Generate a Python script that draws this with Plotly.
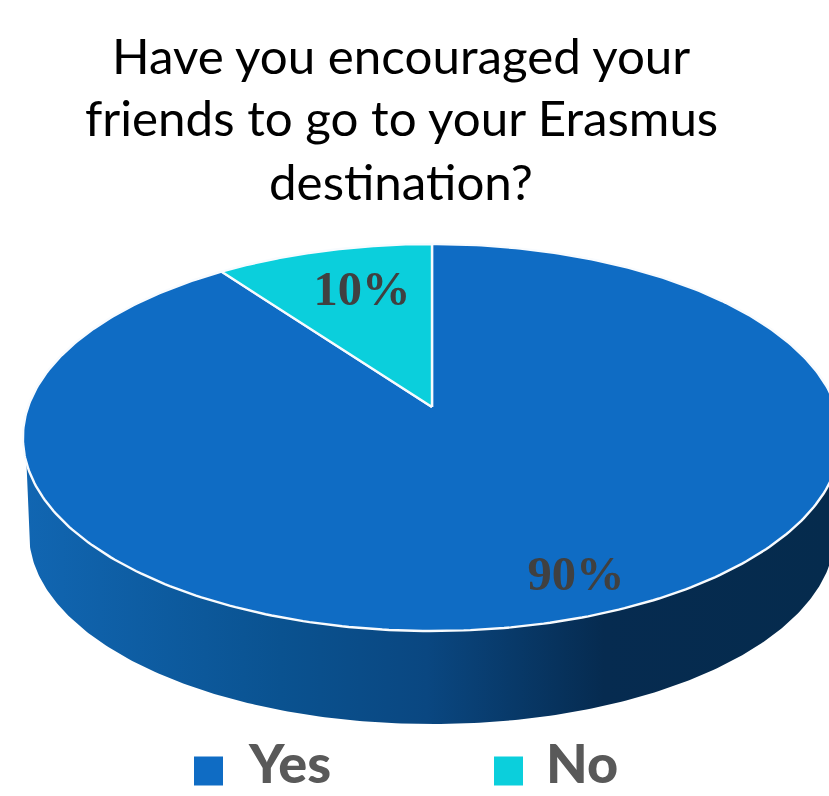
import numpy as np
import plotly.graph_objects as go

# Survey results
categories = ["Yes", "No"]
shares = [90, 10]
title_lines = [
    "Have you encouraged your",
    "friends to go to your Erasmus",
    "destination?",
]

WIDTH, HEIGHT = 829, 796
COLORS = {"Yes": "#0f6cc4", "No": "#0bcfdc"}

# Perspective projection of the pie's top face onto the page
CX, CY = 432.0, 407.0
SCALE_X, SCALE_Y, TILT = 404.0, 188.7, 0.1576
# Lower rim of the wall
DEPTH, LOWER_SCALE = 96.0, 0.985


def project(theta_deg, radius=1.0):
    t = np.radians(theta_deg)
    u, v = radius * np.sin(t), radius * np.cos(t)
    w = 1 + TILT * v
    return CX + SCALE_X * u / w, CY - SCALE_Y * v / w


def project_lower(theta_deg):
    x, y = project(theta_deg)
    return CX + (x - CX) * LOWER_SCALE, (y - 437.5) * LOWER_SCALE + 437.5 + DEPTH


fig = go.Figure()

# Wall of the disc, visible along the front half
upper_a = np.degrees(np.arccos(-0.2835))
lower_a = np.degrees(np.arccos(-TILT))
upper_theta = np.linspace(upper_a, 360 - upper_a, 240)
lower_theta = np.linspace(360 - lower_a, lower_a, 240)
ux, uy = project(upper_theta)
lx, ly = project_lower(lower_theta)
fig.add_trace(go.Scatter(
    x=np.r_[ux, lx], y=np.r_[uy, ly],
    mode="lines", line=dict(width=0), fill="toself",
    fillgradient=dict(
        type="horizontal", start=24, stop=829,
        colorscale=[
            [0.0, "#1166b2"], [0.32, "#0a5290"], [0.5, "#0a4781"],
            [0.72, "#062b50"], [1.0, "#052b4d"],
        ],
    ),
    hoverinfo="skip", showlegend=False,
))

# Top face slices, drawn clockwise from twelve o'clock
edges = np.r_[0, np.cumsum(shares)] / np.sum(shares) * 360
for name, start, stop in zip(categories, edges[:-1], edges[1:]):
    theta = np.linspace(start, stop, 400)
    x, y = project(theta)
    fig.add_trace(go.Scatter(
        x=np.r_[CX, x, CX], y=np.r_[CY, y, CY],
        mode="lines", line=dict(color="#f8fbfe", width=2.4),
        fill="toself", fillcolor=COLORS[name],
        name=name, showlegend=False, hoverinfo="skip",
    ))

# Percentage labels
label_x, label_y = [576, 362], [578, 293]
fig.add_trace(go.Scatter(
    x=label_x, y=label_y, mode="text",
    text=[f"{v}%" for v in shares],
    textposition="middle center",
    textfont=dict(family="Liberation Serif", size=48.5, color="#404040", weight="bold"),
    hoverinfo="skip", showlegend=False,
))

# Legend swatches and names
swatch_x, text_x = [208.5, 508.5], [289, 582]
fig.add_trace(go.Scatter(
    x=swatch_x, y=[771, 771], mode="markers",
    marker=dict(symbol="square", size=29, color=[COLORS[c] for c in categories], line=dict(width=0)),
    hoverinfo="skip", showlegend=False,
))
annotations = [
    dict(x=tx, y=762, text=c, showarrow=False, xanchor="center", yanchor="middle",
         font=dict(family="Lato", size=54, color="#595959", weight=900))
    for tx, c in zip(text_x, categories)
]
for line, y in zip(title_lines, [55, 117, 181]):
    annotations.append(dict(x=401, y=y, text=line, showarrow=False, xanchor="center", yanchor="middle",
                            font=dict(family="Lato", size=49.3, color="#000000")))

fig.update_layout(
    width=WIDTH, height=HEIGHT,
    margin=dict(l=0, r=0, t=0, b=0),
    paper_bgcolor="white", plot_bgcolor="white",
    xaxis=dict(range=[0, WIDTH], visible=False, fixedrange=True),
    yaxis=dict(range=[HEIGHT, 0], visible=False, fixedrange=True),
    annotations=annotations,
)
fig.write_html("out.html", config={"displayModeBar": False})
